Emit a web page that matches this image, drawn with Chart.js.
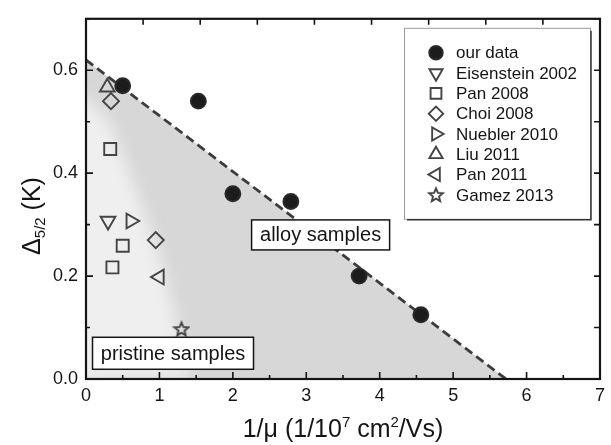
<!DOCTYPE html>
<html>
<head>
<meta charset="utf-8">
<script src="https://cdn.jsdelivr.net/npm/chart.js@4.4.1/dist/chart.umd.min.js"></script>
<style>
	html, body { margin: 0; padding: 0; background: #fff; }
	#wrap { width: 611px; height: 445px; }
</style>
</head>
<body>
<div id="wrap"><canvas id="chart" width="611" height="445"></canvas></div>
<script>
(function () {
	'use strict';

	// --- Data ---

	const ourData = [[0.5, 0.57], [1.53, 0.54], [2.0, 0.36], [2.79, 0.345], [3.72, 0.2], [4.56, 0.125]];
	const eisenstein2002 = [[0.3, 0.307]];
	const pan2008 = [[0.33, 0.447], [0.5, 0.259], [0.36, 0.217]];
	const choi2008 = [[0.34, 0.54], [0.95, 0.27]];
	const nuebler2010 = [[0.61, 0.307]];
	const liu2011 = [[0.29, 0.567]];
	const pan2011 = [[1.0, 0.198]];
	const gamez2013 = [[1.3, 0.097]];

	// dashed border between alloy and pristine regions
	const boundaryLine = [[0, 0.62], [5.72, 0]];
	// soft edge of the lighter "pristine" zone
	const pristineEdge = [[0, 0.58], [0.32, 0.5], [0.65, 0.38], [1.05, 0.22], [1.25, 0.1], [1.4, 0], [0, 0]];

	const xTickLabels = ['0', '1', '2', '3', '4', '5', '6', '7'];
	const yTickLabels = ['0.0', '0.2', '0.4', '0.6'];

	const seriesLabels = ['our data', 'Eisenstein 2002', 'Pan 2008', 'Choi 2008', 'Nuebler 2010', 'Liu 2011', 'Pan 2011', 'Gamez 2013'];
	const seriesData = [ourData, eisenstein2002, pan2008, choi2008, nuebler2010, liu2011, pan2011, gamez2013];

	const FONT = "'Liberation Sans', Arial, Helvetica, sans-serif";
	const INK = '#151515';
	const MARK = '#444';

	// --- Helpers ---

	function toPoints(arr) {
		return arr.map(p => ({ x: p[0], y: p[1] }));
	}

	function makeStar(size, color, lw) {
		const c = document.createElement('canvas');
		c.width = c.height = size;
		const g = c.getContext('2d');
		const cx = size / 2, cy = size / 2 + 0.5;
		const R = size / 2 - lw, r = R * 0.45;
		g.beginPath();
		for (let i = 0; i < 10; i++) {
			const a = -Math.PI / 2 + i * Math.PI / 5;
			const rr = i % 2 ? r : R;
			g.lineTo(cx + rr * Math.cos(a), cy + rr * Math.sin(a));
		}
		g.closePath();
		g.lineWidth = lw;
		g.strokeStyle = color;
		g.stroke();
		return c;
	}

	const starImg = makeStar(18, MARK, 1.9);

	const markerStyles = [
		{ pointStyle: 'circle', rotation: 0, radius: 7.5, fill: '#1c1c1c', stroke: '#2a2a2a' },
		{ pointStyle: 'triangle', rotation: 180, radius: 8.5 },
		{ pointStyle: 'rect', rotation: 0, radius: 8.5 },
		{ pointStyle: 'rectRot', rotation: 0, radius: 8 },
		{ pointStyle: 'triangle', rotation: 90, radius: 8.5 },
		{ pointStyle: 'triangle', rotation: 0, radius: 8.5 },
		{ pointStyle: 'triangle', rotation: 270, radius: 8.5 },
		{ pointStyle: starImg, rotation: 0, radius: 9 },
	];

	const markerDatasets = seriesLabels.map((label, i) => {
		const s = markerStyles[i];
		return {
			label: label,
			data: toPoints(seriesData[i]),
			pointStyle: s.pointStyle,
			rotation: s.rotation,
			pointRadius: s.radius,
			pointBorderWidth: 1.9,
			pointBorderColor: s.stroke || MARK,
			pointBackgroundColor: s.fill || 'rgba(0,0,0,0)',
			showLine: false,
			order: 1,
		};
	});

	const shadeDataset = {
		label: 'alloy region',
		data: toPoints(boundaryLine),
		showLine: true,
		pointRadius: 0,
		borderWidth: 0,
		borderColor: 'rgba(0,0,0,0)',
		backgroundColor: '#d7d7d7',
		fill: 'origin',
		order: 3,
		isShade: true,
	};

	const lineDataset = {
		label: 'boundary',
		data: toPoints(boundaryLine),
		showLine: true,
		pointRadius: 0,
		borderWidth: 2.8,
		borderColor: '#3c3c3c',
		borderDash: [9, 5],
		fill: false,
		order: 2,
	};

	// --- Plugins ---

	const pristinePlugin = {
		id: 'pristine',
		afterDatasetDraw(chart, args) {
			if (!chart.data.datasets[args.index].isShade) return;
			const { ctx, scales: { x, y } } = chart;
			ctx.save();
			// clip to the shaded triangle
			ctx.beginPath();
			boundaryLine.forEach((p, i) => {
				const px = x.getPixelForValue(p[0]), py = y.getPixelForValue(p[1]);
				i ? ctx.lineTo(px, py) : ctx.moveTo(px, py);
			});
			ctx.lineTo(x.getPixelForValue(0), y.getPixelForValue(0));
			ctx.closePath();
			ctx.clip();
			ctx.filter = 'blur(8px)';
			ctx.fillStyle = '#efefef';
			ctx.beginPath();
			pristineEdge.forEach((p, i) => {
				const px = x.getPixelForValue(p[0]), py = y.getPixelForValue(p[1]);
				i ? ctx.lineTo(px, py) : ctx.moveTo(px - 20, py);
			});
			ctx.lineTo(x.getPixelForValue(0) - 20, y.getPixelForValue(0) + 20);
			ctx.closePath();
			ctx.fill();
			ctx.restore();
		},
	};

	function drawMarker(ctx, style, px, py, radius) {
		ctx.save();
		ctx.lineWidth = 1.9;
		ctx.strokeStyle = style.stroke || MARK;
		ctx.fillStyle = style.fill || 'rgba(0,0,0,0)';
		Chart.helpers.drawPoint(ctx, {
			pointStyle: style.pointStyle,
			rotation: style.rotation,
			radius: radius,
			borderWidth: 1.9,
		}, px, py);
		ctx.restore();
	}

	function drawBoxLabel(ctx, text, cx, cy, w, h) {
		ctx.save();
		ctx.fillStyle = '#fff';
		ctx.fillRect(cx - w / 2, cy - h / 2, w, h);
		ctx.lineWidth = 1.5;
		ctx.strokeStyle = INK;
		ctx.strokeRect(cx - w / 2, cy - h / 2, w, h);
		ctx.fillStyle = INK;
		ctx.font = '20px ' + FONT;
		ctx.textAlign = 'center';
		ctx.textBaseline = 'middle';
		ctx.fillText(text, cx, cy + 1);
		ctx.restore();
	}

	function drawRich(ctx, parts, baseSize, subSize) {
		let total = 0;
		parts.forEach(p => {
			ctx.font = (p.shift ? subSize : baseSize) + 'px ' + FONT;
			total += ctx.measureText(p.t).width;
		});
		let cursor = -total / 2;
		parts.forEach(p => {
			ctx.font = (p.shift ? subSize : baseSize) + 'px ' + FONT;
			ctx.fillText(p.t, cursor, p.shift || 0);
			cursor += ctx.measureText(p.t).width;
		});
	}

	const decorPlugin = {
		id: 'decor',
		afterDraw(chart) {
			const { ctx, chartArea: a, scales } = chart;
			const { x, y, xTop } = scales;

			// frame
			ctx.save();
			ctx.strokeStyle = INK;
			ctx.lineWidth = 2.2;
			ctx.strokeRect(a.left, a.top, a.right - a.left, a.bottom - a.top);

			// inward ticks
			ctx.lineWidth = 1.6;
			ctx.beginPath();
			x.ticks.forEach(t => {
				const px = x.getPixelForValue(t.value);
				const major = Math.abs(t.value - Math.round(t.value)) < 1e-6;
				ctx.moveTo(px, a.bottom);
				ctx.lineTo(px, a.bottom - (major ? 7 : 4));
			});
			xTop.ticks.forEach(t => {
				const px = xTop.getPixelForValue(t.value);
				ctx.moveTo(px, a.top);
				ctx.lineTo(px, a.top + 6);
			});
			y.ticks.forEach(t => {
				const py = y.getPixelForValue(t.value);
				const major = Math.round(t.value * 10) % 2 === 0;
				ctx.moveTo(a.left, py);
				ctx.lineTo(a.left + (major ? 7 : 4), py);
				ctx.moveTo(a.right, py);
				ctx.lineTo(a.right - 6, py);
			});
			ctx.stroke();
			ctx.restore();

			// region labels
			drawBoxLabel(ctx, 'alloy samples', x.getPixelForValue(3.195), y.getPixelForValue(0.28), 138, 30);
			drawBoxLabel(ctx, 'pristine samples', x.getPixelForValue(1.185), y.getPixelForValue(0.05), 161, 32);

			// legend
			const lw = 186, lh = 191;
			const lx = a.right - 10 - lw, ly = a.top + 9;
			ctx.save();
			ctx.fillStyle = '#fff';
			ctx.fillRect(lx, ly, lw, lh);
			ctx.strokeStyle = '#9a9a9a';
			ctx.lineWidth = 1;
			ctx.strokeRect(lx + 0.5, ly + 0.5, lw, lh);
			ctx.strokeStyle = '#333';
			ctx.lineWidth = 1.5;
			ctx.beginPath();
			ctx.moveTo(lx + lw + 1, ly + 3);
			ctx.lineTo(lx + lw + 1, ly + lh + 1);
			ctx.lineTo(lx + 3, ly + lh + 1);
			ctx.stroke();
			ctx.restore();

			seriesLabels.forEach((label, i) => {
				const rowY = ly + 25 + i * 20.3;
				const st = markerStyles[i];
				drawMarker(ctx, st, lx + 32, rowY, st.radius * 0.9);
				ctx.save();
				ctx.fillStyle = INK;
				ctx.font = '17px ' + FONT;
				ctx.textAlign = 'left';
				ctx.textBaseline = 'middle';
				ctx.fillText(label, lx + 52, rowY + 1);
				ctx.restore();
			});

			// axis titles
			ctx.save();
			ctx.fillStyle = INK;
			ctx.textBaseline = 'alphabetic';
			ctx.textAlign = 'left';
			ctx.translate((a.left + a.right) / 2, 437);
			drawRich(ctx, [
				{ t: '1/\u03bc (1/10' },
				{ t: '7', shift: -10 },
				{ t: ' cm' },
				{ t: '2', shift: -10 },
				{ t: '/Vs)' },
			], 25, 15);
			ctx.restore();

			ctx.save();
			ctx.fillStyle = INK;
			ctx.textBaseline = 'alphabetic';
			ctx.textAlign = 'left';
			ctx.translate(40, 216);
			ctx.rotate(-Math.PI / 2);
			drawRich(ctx, [
				{ t: '\u0394' },
				{ t: '5/2', shift: 5 },
				{ t: ' (K)' },
			], 25, 15);
			ctx.restore();
		},
	};

	// --- Chart ---

	const canvas = document.getElementById('chart');
	new Chart(canvas, {
		type: 'scatter',
		data: { datasets: [shadeDataset, lineDataset].concat(markerDatasets) },
		options: {
			responsive: false,
			animation: false,
			devicePixelRatio: 1,
			layout: { padding: { top: 13, right: 8, left: 0, bottom: 0 } },
			plugins: {
				legend: { display: false },
				tooltip: { enabled: false },
			},
			scales: {
				x: {
					type: 'linear',
					position: 'bottom',
					min: 0,
					max: 7,
					afterFit: s => { s.height = 66; },
					grid: { display: false, drawTicks: false },
					border: { display: false },
					ticks: {
						stepSize: 0.5,
						autoSkip: false,
						maxRotation: 0,
						padding: 6,
						color: INK,
						font: { size: 18, family: FONT },
						callback: v => (Math.abs(v - Math.round(v)) < 1e-6 ? xTickLabels[Math.round(v)] : ''),
					},
				},
				xTop: {
					type: 'linear',
					position: 'top',
					min: 0,
					max: 9,
					afterFit: s => { s.height = 0; },
					grid: { display: false, drawTicks: false },
					border: { display: false },
					ticks: { display: false, stepSize: 1 },
				},
				y: {
					type: 'linear',
					position: 'left',
					min: 0,
					max: 0.7,
					afterFit: s => { s.width = 86; },
					grid: { display: false, drawTicks: false },
					border: { display: false },
					ticks: {
						stepSize: 0.1,
						autoSkip: false,
						padding: 8,
						color: INK,
						font: { size: 18, family: FONT },
						callback: v => {
							const k = Math.round(v * 10);
							return k % 2 === 0 && yTickLabels[k / 2] ? yTickLabels[k / 2] : '';
						},
					},
				},
			},
		},
		plugins: [pristinePlugin, decorPlugin],
	});
})();
</script>
</body>
</html>
